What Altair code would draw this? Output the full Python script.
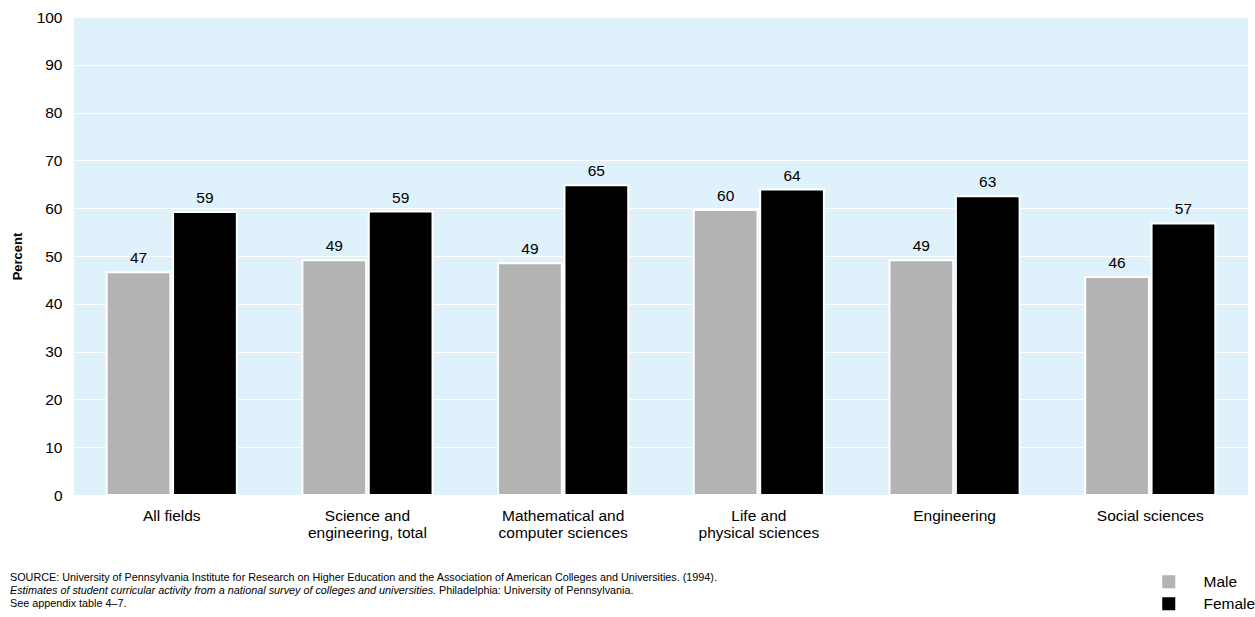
import altair as alt
import pandas as pd

# Share of students reporting curricular activity, by field and sex
fields = [
    "All fields",
    "Science and\nengineering, total",
    "Mathematical and\ncomputer sciences",
    "Life and\nphysical sciences",
    "Engineering",
    "Social sciences",
]
male = [46.6, 49.1, 48.5, 59.6, 49.1, 45.6]
female = [59.2, 59.3, 64.8, 63.9, 62.5, 56.8]
sexes = ["Male", "Female"]
colors = ["#b3b3b3", "#000000"]

footnote_lines = [
    "SOURCE: University of Pennsylvania Institute for Research on Higher Education and the Association of American Colleges and Universities. (1994).",
    "See appendix table 4\u20137.",
]
footnote_italic = "Estimates of student curricular activity from a national survey of colleges and universities."
footnote_tail = "Philadelphia: University of Pennsylvania."

rows = []
for f, m, w in zip(fields, male, female):
    rows.append({"field": f, "sex": "Male", "pct": m})
    rows.append({"field": f, "sex": "Female", "pct": w})
df = pd.DataFrame(rows)

W, H = 1174, 478
FONT = "Liberation Sans"

x_enc = alt.X(
    "field:N",
    sort=fields,
    scale=alt.Scale(paddingInner=0.335, paddingOuter=0.167),
    axis=alt.Axis(
        title=None,
        labelAngle=0,
        ticks=False,
        domain=False,
        labelFontSize=15.5,
        labelFont=FONT,
        labelColor="#000000",
        labelPadding=13,
        labelLineHeight=17,
        labelExpr="split(datum.value, '\\n')",
    ),
)
off_enc = alt.XOffset("sex:N", sort=sexes, scale=alt.Scale(paddingInner=0.04))
y_enc = alt.Y(
    "pct:Q",
    scale=alt.Scale(domain=[0, 100], nice=False),
    axis=alt.Axis(
        title="Percent",
        values=list(range(0, 101, 10)),
        ticks=False,
        domain=False,
        grid=True,
        gridColor="#ffffff",
        gridWidth=1.2,
        labelFontSize=15.5,
        labelFont=FONT,
        labelColor="#000000",
        labelPadding=12,
        titleFont=FONT,
        titleFontSize=13,
        titleFontWeight="bold",
        titleColor="#000000",
        titlePadding=12,
    ),
)

bars = alt.Chart(df).mark_bar(stroke="#ffffff", strokeWidth=2).encode(
    x=x_enc,
    xOffset=off_enc,
    y=y_enc,
    color=alt.Color(
        "sex:N",
        sort=sexes,
        scale=alt.Scale(domain=sexes, range=colors),
        legend=alt.Legend(
            title=None,
            orient="none",
            legendX=1087,
            legendY=557,
            symbolType="square",
            symbolSize=170,
            symbolStrokeWidth=0,
            labelFont=FONT,
            labelFontSize=15.5,
            labelColor="#000000",
            labelOffset=27,
            rowPadding=5,
        ),
    ),
)

labels = alt.Chart(df).mark_text(
    baseline="bottom", dy=-6, fontSize=15.5, font=FONT, color="#000000"
).encode(
    x=alt.X("field:N", sort=fields),
    xOffset=alt.XOffset("sex:N", sort=sexes),
    y="pct:Q",
    text=alt.Text("pct:Q", format=".0f"),
)

note_df = pd.DataFrame({"line": footnote_lines, "yy": [H + 83, H + 109]})
notes = alt.Chart(note_df).mark_text(
    align="left", baseline="middle", fontSize=10.8, font=FONT, color="#000000"
).encode(x=alt.value(-64), y=alt.Y("yy:Q", scale=None), text="line:N")

ital_df = pd.DataFrame({"t": [footnote_italic]})
ital = alt.Chart(ital_df).mark_text(
    align="left", baseline="middle", fontSize=10.8, font=FONT, fontStyle="italic", color="#000000"
).encode(x=alt.value(-64), y=alt.value(H + 96), text="t:N")

tail_df = pd.DataFrame({"t": [footnote_tail]})
tail = alt.Chart(tail_df).mark_text(
    align="left", baseline="middle", fontSize=10.8, font=FONT, color="#000000"
).encode(x=alt.value(365), y=alt.value(H + 96), text="t:N")

chart = (
    alt.layer(bars, labels, notes, ital, tail)
    .properties(
        width=W,
        height=H,
        autosize=alt.AutoSizeParams(type="none"),
        padding={"left": 74, "top": 17, "right": 7, "bottom": 122},
        background="#ffffff",
    )
    .configure_view(fill="#dff1fa", strokeWidth=0)
)

chart.save("out.html", embed_options={"renderer": "svg", "actions": False})
